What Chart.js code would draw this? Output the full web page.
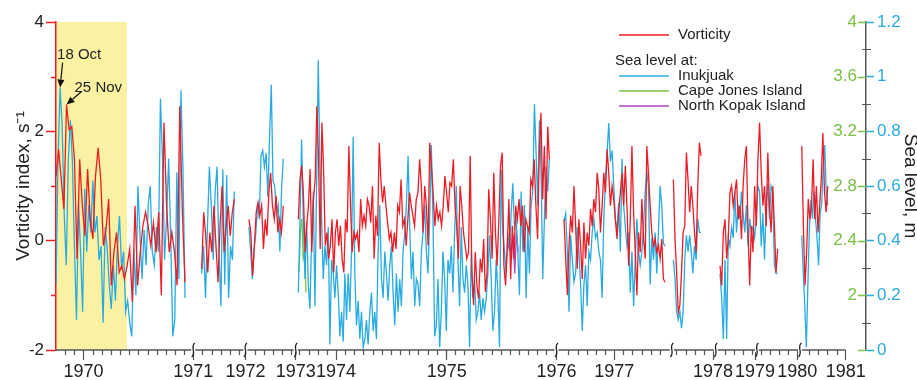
<!DOCTYPE html>
<html>
<head>
<meta charset="utf-8">
<script src="https://cdn.jsdelivr.net/npm/chart.js@4.4.1/dist/chart.umd.min.js"></script>
<style>
  html, body { margin: 0; padding: 0; background: #fff; }
</style>
</head>
<body>
<canvas id="chart" width="917" height="380"></canvas>
<script>
// x axis is in "axis months": one minor tick per month, the axis is cut at the breaks
const yearLabels = ['1970', '1971', '1972', '1973', '1974', '1975', '1976', '1977', '1978', '1979', '1980', '1981'];
const yearPos = [3.0, 15.0, 20.7, 26.2, 30.6, 42.7, 54.7, 61.0, 71.8, 76.4, 81.0, 86.3];
const xBreaks = [15.0, 20.7, 26.2, 54.7, 67.3, 72.1, 76.6, 81.3];
const axisEnd = 86.3;
const xMax = 88.52;
const shadeFrom = 0, shadeTo = 7.76;

// start / end of each data stretch (axis months)
const segStart = [0, 15.92, 21.09, 26.48, 55.52, 67.47, 72.57, 81.5];
const segEnd = [14.1, 19.49, 24.84, 53.92, 66.56, 70.49, 78.87, 84.34];

// vorticity index, s-1
const vortA = [1.18,1.67,1.12,0.58,2.49,2.03,2.09,1.49,-0.33,1.49,0.64,0.09,1.31,0.39,0.03,1.18,1.70,1.12,-0.09,0.21,0.76,-0.82,-0.21,0.15,-0.58,-0.46,-0.70,-0.46,-0.15,-1.12,0.64,-0.82,-0.21,0.27,0.52,0.27,-0.09,0.33,-0.21,0.52,-1.00,2.16,0.64,-0.21,0.15,-0.21,-0.82,2.46,0.52,-0.76];
const vortB = [-0.52,0.52,0.09,-0.58,0.15,-0.21,0.64,-0.09,-0.76,0.27,1.00,-0.21,0.27,0.64,0.09,0.52,0.76];
const vortC = [0.39,0.15,-0.64,-0.09,0.52,0.70,0.46,0.64,-0.15,0.39,0.09,0.88,1.24,0.64,0.39,0.82,0.15,0.39,0.15,0.64];
const vortD = [0.39,1.12,1.37,0.88,-0.21,0.27,0.64,1.31,-0.21,0.76,
  1.12,2.46,1.49,-0.15,2.16,1.31,-0.09,0.15,-0.33,-0.09,
  0.39,-0.58,0.15,0.39,-0.09,0.27,-0.33,-0.58,0.39,0.15,
  1.73,0.64,-0.21,0.15,0.03,0.15,-0.21,0.76,0.27,0.46,
  0.27,0.76,0.64,0.33,1.00,-0.33,0.46,0.09,1.79,1.12,
  0.70,1.00,0.64,0.33,0.03,0.15,-0.21,0.15,-0.15,0.64,
  0.52,1.12,0.27,0.39,-0.09,0.39,0.88,0.64,0.46,0.27,
  0.76,0.88,1.49,1.00,0.15,1.00,0.64,-0.09,1.79,1.37,
  0.88,0.27,0.64,0.39,0.52,0.27,0.64,
  1.18,0.88,0.52,1.06,1.00,1.49,0.64,0.27,-0.33,1.00,
  0.64,0.15,-0.09,-0.33,-0.21,1.55,-0.58,-1.18,-0.21,-0.82,
  -1.06,-0.33,-0.58,0.03,-0.94,-0.58,0.94,0.39,-0.33,1.24,
  0.15,-0.46,0.39,1.37,1.61,-0.46,-0.82,-0.09,0.76,-0.70,
  0.27,-0.33,0.64,0.39,0.76,0.27,0.64,-0.21,0.39,0.27,
  0.15,1.12,1.00,1.49,0.64,0.03,1.61,2.34,0.76,1.73,
  0.39,2.09,1.49];
const vortE = [0.39,-0.33,-1.00,-0.09,0.46,0.15,1.00,0.27,-0.52,0.39,
  -0.09,-0.70,0.33,-0.33,0.15,-0.09,0.58,0.27,0.76,0.52,
  1.24,0.94,0.15,0.64,1.24,0.88,1.67,1.24,0.64,1.00,
  0.76,0.39,0.03,0.52,0.88,1.24,0.64,1.37,0.64,-0.46,
  0.39,1.73,0.52,-0.21,-1.00,0.15,-0.21,
  0.76,0.03,-0.33,1.73,1.24,0.64,0.15,-0.09,0.03,-0.21,
  -0.09,-0.33,0.03,-0.70,-0.76];
const vortF = [1.12,0.03,-0.58,-1.31,-1.18,-0.58,0.15,0.27,1.61,1.12,0.52,1.00,0.64,0.15,-0.21,1.00,1.79,1.55];
const vortG = [-0.46,-0.82,0.15,0.39,-0.33,0.03,0.88,1.00,0.64,0.88,1.12,0.39,0.64,0.03,1.00,1.49,1.73,0.15,-0.82,0.27,-0.21,1.00,0.27,1.49,2.16,1.24,0.64,1.00,0.27,1.61,0.64,0.15,1.00,0.27,-0.58,-0.15];
const vortH = [1.73,0.27,-0.82,-0.21,0.76,0.39,0.64,1.49,0.39,1.00,0.15,0.64,1.12,1.97,0.88,0.52,1.00];

// sea level at Inukjuak, m
const seaA = [0.24,0.70,0.96,0.82,0.50,0.31,0.69,0.84,0.69,0.38,0.11,0.54,0.36,0.14,0.59,0.36,0.53,0.43,0.62,0.43,0.49,0.33,0.38,0.10,0.45,0.37,0.24,0.15,0.31,0.18,0.38,0.49,0.30,0.36,0.14,0.18,0.10,0.05,0.37,0.20,0.60,0.42,0.26,0.44,0.31,0.53,0.60,0.36,0.31,0.45,0.36,0.92,0.70,0.33,0.48,0.70,0.42,0.05,0.11,0.65,0.26,0.95,0.66,0.19];
const seaB = [0.28,0.38,0.19,0.45,0.67,0.53,0.33,0.58,0.67,0.36,0.16,0.66,0.24,0.64,0.19,0.38,0.33,0.58];
const seaC = [0.45,0.36,0.26,0.37,0.43,0.53,0.48,0.71,0.73,0.67,0.72,0.56,0.78,0.97,0.62,0.60,0.50,0.53,0.36,0.59,0.70];
const seaD = [0.21,0.47,0.77,0.48,0.26,0.47,0.24,0.15,0.41,0.58,
  0.16,0.60,1.06,0.67,0.48,0.26,0.38,0.31,0.45,0.02,
  0.33,0.28,0.19,0.31,0.21,0.05,0.14,0.03,0.28,0.11,
  0.28,0.14,0.36,0.78,0.28,0.09,0.18,0.04,0.14,0.01,
  0.04,0.11,0.02,0.14,0.21,0.07,0.14,0.04,0.36,0.53,
  0.26,0.19,0.36,0.28,0.18,0.31,0.38,0.21,0.09,0.28,
  0.14,0.26,0.16,0.36,0.43,0.53,0.71,0.45,0.26,0.36,
  0.16,0.26,0.24,0.16,0.36,0.43,0.53,0.36,0.28,0.48,
  0.75,0.48,0.05,0.09,0.26,0.01,0.14,0.36,0.26,
  0.07,0.33,0.28,0.38,0.21,0.43,0.60,0.33,0.16,0.45,
  0.26,0.21,0.31,0.24,0.01,0.36,0.19,0.26,0.11,0.14,
  0.21,0.11,0.19,0.14,0.19,0.28,0.42,0.26,0.07,0.14,
  0.33,0.21,0.01,0.66,0.43,0.36,0.28,0.43,0.36,0.50,
  0.61,0.45,0.48,0.36,0.20,0.58,0.36,0.53,0.19,0.45,
  0.28,0.53,0.58,0.90,0.72,0.53,0.84,0.65,0.26,0.48,
  0.67,0.58,0.70];
const seaE = [0.47,0.50,0.36,0.14,0.42,0.33,0.25,0.28,0.45,0.36,
  0.24,0.07,0.24,0.31,0.16,0.36,0.33,0.43,0.48,0.41,
  0.43,0.36,0.33,0.19,0.48,0.62,0.72,0.83,0.69,0.73,
  0.60,0.48,0.43,0.54,0.36,0.70,0.53,0.45,0.38,0.43,
  0.21,0.36,0.16,0.33,0.48,0.36,0.31,
  0.36,0.45,0.58,0.65,0.60,0.24,0.41,0.33,0.43,0.28,
  0.43,0.60,0.53,0.39,0.38];
const seaF = [0.33,0.26,0.14,0.11,0.14,0.08,0.14,0.33,0.42,0.36,0.42,0.36,0.28,0.38,0.33,0.48,0.43,0.43];
const seaG = [0.28,0.19,0.04,0.33,0.04,0.41,0.38,0.45,0.41,0.58,0.43,0.53,0.48,0.58,0.50,0.43,0.53,0.38,0.48,0.43,0.45,0.41,0.48,0.60,0.58,0.38,0.50,0.33,0.53,0.61,0.48,0.60,0.58,0.31,0.28,0.28];
const seaH = [0.42,0.28,0.16,0.01,0.24,0.45,0.55,0.48,0.58,0.48,0.41,0.31,0.50,0.53,0.67,0.75,0.58,0.53];

// short records at the other two gauges
const capeJones = [2.17, 2.46, 2.56, 2.27, 2.32, 2.02];
const cjFrom = 26.56, cjTo = 27.32;
const northKopak = [0.37, 0.41, 0.33, 0.42, 0.28, 0.43, 0.36];
const nkFrom = 49.4, nkTo = 50.5;

const vortTicks = [-2, 0, 2, 4];
const seaTicks = [0, 0.2, 0.4, 0.6, 0.8, 1.0, 1.2];
const greenTicks = [1.6, 2, 2.4, 2.8, 3.2, 3.6, 4];

const RED = '#ec1c24', BLUE = '#29abe2', GREEN = '#7ac142', PURPLE = '#b245c0';
const FONT = "'Liberation Sans', Arial, sans-serif";

function stretch(vals, a, b) {
  return vals.map((v, i) => ({ x: a + i * (b - a) / (vals.length - 1), y: v }));
}

function buildSeries(segs) {
  let pts = [];
  segs.forEach((vals, s) => {
    if (s > 0) pts.push({ x: (segEnd[s - 1] + segStart[s]) / 2, y: null });
    pts = pts.concat(stretch(vals, segStart[s], segEnd[s]));
  });
  return pts;
}

const vortPts = buildSeries([vortA, vortB, vortC, vortD, vortE, vortF, vortG, vortH]);
const seaPts = buildSeries([seaA, seaB, seaC, seaD, seaE, seaF, seaG, seaH]);

function minorXTicks() {
  const bounds = [0].concat(xBreaks, [axisEnd]);
  const out = [];
  for (let i = 0; i < bounds.length - 1; i++) {
    const a = bounds[i], b = bounds[i + 1];
    const inner = yearPos.find(p => p > a + 0.2 && p < b - 0.2);
    const anchor = inner !== undefined ? inner : a;
    for (let t = anchor - Math.floor(anchor - a); t < b - 0.3; t += 1) {
      if (t > a + 0.3 && !yearPos.some(p => Math.abs(p - t) < 0.05)) out.push(t);
    }
  }
  return out;
}

const decor = {
  id: 'decor',
  beforeDraw(chart) {
    const { ctx, chartArea, scales: { x } } = chart;
    const x0 = x.getPixelForValue(shadeFrom), x1 = x.getPixelForValue(shadeTo);
    ctx.save();
    ctx.fillStyle = '#fbf1a3';
    ctx.fillRect(x0, chartArea.top, x1 - x0, chartArea.bottom - chartArea.top);
    ctx.restore();
  },
  afterDatasetsDraw(chart) {
    const { ctx, chartArea, scales } = chart;
    const x = scales.x, y = scales.y, ys = scales.ySea, yg = scales.yGreen;
    const by = chartArea.bottom;
    ctx.save();

    // x axis line and minor ticks
    ctx.strokeStyle = '#555';
    ctx.lineWidth = 1.5;
    ctx.beginPath();
    ctx.moveTo(x.getPixelForValue(0), by);
    ctx.lineTo(x.getPixelForValue(axisEnd), by);
    ctx.stroke();
    ctx.lineWidth = 1.2;
    ctx.beginPath();
    minorXTicks().forEach(t => {
      const px = Math.round(x.getPixelForValue(t)) + 0.5;
      ctx.moveTo(px, by);
      ctx.lineTo(px, by + 5);
    });
    ctx.stroke();

    // axis breaks
    xBreaks.forEach(b => {
      const bx = x.getPixelForValue(b);
      ctx.fillStyle = '#fff';
      ctx.fillRect(bx - 2, by - 2, 4, 4);
      ctx.strokeStyle = '#222';
      ctx.lineWidth = 1.3;
      ctx.beginPath();
      ctx.moveTo(bx + 1.5, by - 7);
      ctx.bezierCurveTo(bx - 3.5, by - 3, bx + 3.5, by + 2, bx - 1.5, by + 7);
      ctx.stroke();
    });

    // left minor ticks
    ctx.strokeStyle = RED;
    ctx.lineWidth = 1.5;
    ctx.beginPath();
    [-1, 1, 3].forEach(v => {
      const py = Math.round(y.getPixelForValue(v)) + 0.5;
      ctx.moveTo(chartArea.left - 5, py);
      ctx.lineTo(chartArea.left, py);
    });
    ctx.stroke();

    // green ticks on the inner side of the right axis
    ctx.strokeStyle = GREEN;
    ctx.beginPath();
    greenTicks.forEach(v => {
      const py = Math.round(yg.getPixelForValue(v)) + 0.5;
      ctx.moveTo(chartArea.right - 8, py);
      ctx.lineTo(chartArea.right, py);
    });
    ctx.stroke();

    // right minor ticks
    ctx.strokeStyle = '#555';
    ctx.lineWidth = 1.2;
    ctx.beginPath();
    [0.1, 0.3, 0.5, 0.7, 0.9, 1.1].forEach(v => {
      const py = Math.round(ys.getPixelForValue(v)) + 0.5;
      ctx.moveTo(chartArea.right - 4, py);
      ctx.lineTo(chartArea.right + 5, py);
    });
    ctx.stroke();

    // legend
    ctx.font = '15px ' + FONT;
    ctx.textBaseline = 'middle';
    ctx.textAlign = 'left';
    ctx.fillStyle = '#222';
    const rows = [[RED, 'Vorticity', 35], [BLUE, 'Inukjuak', 76], [GREEN, 'Cape Jones Island', 91], [PURPLE, 'North Kopak Island', 106]];
    rows.forEach(([c, label, ry]) => {
      ctx.strokeStyle = c;
      ctx.lineWidth = 1.5;
      ctx.beginPath();
      ctx.moveTo(619, ry);
      ctx.lineTo(669, ry);
      ctx.stroke();
      ctx.fillText(label, 678, ry);
    });
    ctx.fillText('Sea level at:', 615, 61);

    // event annotations
    const tipOct = { x: x.getPixelForValue(stretch(seaA, segStart[0], segEnd[0])[2].x), y: ys.getPixelForValue(seaA[2]) };
    const tipNov = { x: x.getPixelForValue(stretch(vortA, segStart[0], segEnd[0])[4].x), y: y.getPixelForValue(vortA[4]) };
    ctx.textBaseline = 'alphabetic';
    ctx.fillText('18 Oct', tipOct.x - 3, tipOct.y - 29);
    ctx.fillText('25 Nov', tipNov.x + 8, tipNov.y - 13);
    arrow(ctx, tipOct.x + 2.5, tipOct.y - 25, tipOct.x, tipOct.y);
    arrow(ctx, tipNov.x + 15, tipNov.y - 13, tipNov.x, tipNov.y);
    ctx.restore();
  }
};

function arrow(ctx, x0, y0, x1, y1) {
  const ang = Math.atan2(y1 - y0, x1 - x0);
  const len = 8, w = 3.5;
  ctx.strokeStyle = '#111';
  ctx.fillStyle = '#111';
  ctx.lineWidth = 1.2;
  ctx.beginPath();
  ctx.moveTo(x0, y0);
  ctx.lineTo(x1 - Math.cos(ang) * len, y1 - Math.sin(ang) * len);
  ctx.stroke();
  ctx.beginPath();
  ctx.moveTo(x1, y1);
  ctx.lineTo(x1 - Math.cos(ang) * len - Math.sin(ang) * w, y1 - Math.sin(ang) * len + Math.cos(ang) * w);
  ctx.lineTo(x1 - Math.cos(ang) * len + Math.sin(ang) * w, y1 - Math.sin(ang) * len - Math.cos(ang) * w);
  ctx.closePath();
  ctx.fill();
}

Chart.defaults.font.family = FONT;
Chart.defaults.color = '#222';

new Chart(document.getElementById('chart'), {
  type: 'line',
  data: {
    datasets: [
      { label: 'Vorticity', data: vortPts, yAxisID: 'y', borderColor: RED, borderWidth: 1.3 },
      { label: 'Inukjuak', data: seaPts, yAxisID: 'ySea', borderColor: BLUE, borderWidth: 1.3 },
      { label: 'Cape Jones Island', data: stretch(capeJones, cjFrom, cjTo), yAxisID: 'yGreen', borderColor: GREEN, borderWidth: 1.3 },
      { label: 'North Kopak Island', data: stretch(northKopak, nkFrom, nkTo), yAxisID: 'ySea', borderColor: PURPLE, borderWidth: 1.3 }
    ]
  },
  options: {
    responsive: false,
    animation: false,
    events: [],
    spanGaps: false,
    elements: { point: { radius: 0 }, line: { tension: 0 } },
    layout: { padding: { top: 22, right: 0, bottom: 0, left: 0 } },
    plugins: { legend: { display: false }, tooltip: { enabled: false } },
    scales: {
      x: {
        type: 'linear', min: 0, max: xMax,
        afterBuildTicks: s => { s.ticks = yearPos.map(v => ({ value: v })); },
        afterFit: s => { s.height = 30; },
        ticks: { autoSkip: false, maxRotation: 0, padding: 1, font: { size: 18 }, color: '#222',
          callback: (v, i) => yearLabels[i] },
        grid: { drawOnChartArea: false, tickLength: 10, tickColor: '#555', tickWidth: 1.2 },
        border: { display: false }
      },
      y: {
        position: 'left', min: -2, max: 4,
        afterBuildTicks: s => { s.ticks = vortTicks.map(v => ({ value: v })); },
        afterFit: s => { s.width = 56; },
        ticks: { padding: 2, font: { size: 17 }, color: '#222' },
        grid: { drawOnChartArea: false, tickLength: 10, tickColor: RED, tickWidth: 1.5 },
        border: { color: RED, width: 1.5 },
        title: { display: true, text: 'Vorticity index, s\u207B\u00B9', font: { size: 19, lineHeight: 1 }, color: '#222', padding: { top: 14, bottom: 0 } }
      },
      yGreen: {
        // labels sit just inside the right axis line
        axis: 'y', position: { x: xMax - 1 }, min: 1.6, max: 4,
        afterBuildTicks: s => { s.ticks = greenTicks.map(v => ({ value: v })); },
        ticks: { padding: 0, font: { size: 17 }, color: GREEN, callback: v => (v === 1.6 ? '' : String(v)) },
        grid: { display: false, drawOnChartArea: false, drawTicks: false },
        border: { display: false }
      },
      ySea: {
        position: 'right', min: 0, max: 1.2,
        afterBuildTicks: s => { s.ticks = seaTicks.map(v => ({ value: v })); },
        afterFit: s => { s.width = 51; },
        ticks: { padding: 3, font: { size: 17 }, color: BLUE, callback: v => String(v) },
        grid: { drawOnChartArea: false, tickLength: 8, tickColor: BLUE, tickWidth: 1.5 },
        border: { color: '#555', width: 1.5 },
        title: { display: true, text: 'Sea level, m', font: { size: 19, lineHeight: 1 }, color: '#222', padding: { top: -3, bottom: 0 } }
      }
    }
  },
  plugins: [decor]
});
</script>
</body>
</html>
